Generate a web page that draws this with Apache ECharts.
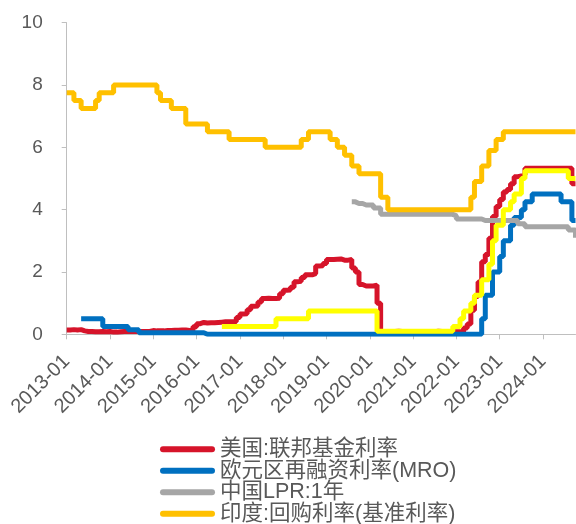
<!DOCTYPE html>
<html>
<head>
<meta charset="utf-8">
<script src="https://cdn.jsdelivr.net/npm/echarts@6/dist/echarts.min.js"></script>
<style>
  html, body { margin: 0; padding: 0; background: #fff; }
  #chart { width: 576px; height: 524px; }
</style>
</head>
<body>
<div id="chart"></div>
<script>
// monthly categories 2013-01 .. 2024-10
var startYear = 2013, endYear = 2024, endMonth = 10;
var months = [];
for (var y = startYear; y <= endYear; y++) {
  for (var m = 1; m <= 12; m++) {
    if (y == endYear && m > endMonth) break;
    months.push(y + '-' + (m < 10 ? '0' + m : m));
  }
}

var seriesNames = ['美国:联邦基金利率', '欧元区再融资利率(MRO)', '中国LPR:1年', '印度:回购利率(基准利率)'];
var ukName = '英国:银行利率';

// 美国:联邦基金利率
var usRate = [
  0.14,0.15,0.14,0.15,0.11,0.09,0.09,0.08,0.08,0.09,0.08,0.09,
  0.07,0.07,0.08,0.09,0.09,0.10,0.09,0.09,0.09,0.09,0.09,0.12,
  0.11,0.11,0.11,0.12,0.12,0.13,0.13,0.14,0.14,0.12,0.12,0.24,
  0.34,0.38,0.36,0.37,0.37,0.38,0.39,0.40,0.40,0.40,0.41,0.54,
  0.65,0.66,0.79,0.90,0.91,1.04,1.15,1.16,1.15,1.15,1.16,1.30,
  1.41,1.42,1.51,1.69,1.70,1.82,1.91,1.91,1.95,2.19,2.20,2.27,
  2.40,2.40,2.41,2.42,2.38,2.38,2.40,2.13,2.00,1.60,1.55,1.55,
  1.55,1.58,1.00,0.05,0.05,0.08,0.09,0.10,0.09,0.09,0.09,0.09,
  0.09,0.08,0.07,0.07,0.06,0.08,0.10,0.09,0.08,0.08,0.08,0.08,
  0.08,0.08,0.20,0.33,0.77,1.21,1.68,2.33,2.56,3.08,3.78,4.10,
  4.33,4.57,4.65,4.83,5.06,5.08,5.12,5.33,5.33,5.33,5.33,5.33,
  5.33,5.33,5.33,5.33,5.33,5.33,5.33,5.33,4.83,4.83
];

// 欧元区再融资利率(MRO)
var ecbRate = [
  null,null,null,null,0.5,0.5,0.5,0.5,0.5,0.5,0.25,0.25,
  0.25,0.25,0.25,0.25,0.25,0.15,0.15,0.15,0.05,0.05,0.05,0.05,
  0.05,0.05,0.05,0.05,0.05,0.05,0.05,0.05,0.05,0.05,0.05,0.05,
  0.05,0.05,0,0,0,0,0,0,0,0,0,0,
  0,0,0,0,0,0,0,0,0,0,0,0,
  0,0,0,0,0,0,0,0,0,0,0,0,
  0,0,0,0,0,0,0,0,0,0,0,0,
  0,0,0,0,0,0,0,0,0,0,0,0,
  0,0,0,0,0,0,0,0,0,0,0,0,
  0,0,0,0,0,0,0,0.5,1.25,1.25,2.0,2.0,
  2.5,3.0,3.0,3.5,3.75,3.75,4.0,4.25,4.25,4.5,4.5,4.5,
  4.5,4.5,4.5,4.5,4.5,4.25,4.25,4.25,3.65,3.65
];

// 中国LPR:1年 (from 2019-08)
var chinaLpr = [
  null,null,null,null,null,null,null,null,null,null,null,null,
  null,null,null,null,null,null,null,null,null,null,null,null,
  null,null,null,null,null,null,null,null,null,null,null,null,
  null,null,null,null,null,null,null,null,null,null,null,null,
  null,null,null,null,null,null,null,null,null,null,null,null,
  null,null,null,null,null,null,null,null,null,null,null,null,
  null,null,null,null,null,null,null,4.25,4.20,4.20,4.15,4.15,
  4.15,4.05,4.05,3.85,3.85,3.85,3.85,3.85,3.85,3.85,3.85,3.85,
  3.85,3.85,3.85,3.85,3.85,3.85,3.85,3.85,3.85,3.85,3.85,3.80,
  3.70,3.70,3.70,3.70,3.70,3.70,3.70,3.65,3.65,3.65,3.65,3.65,
  3.65,3.65,3.65,3.65,3.65,3.55,3.55,3.45,3.45,3.45,3.45,3.45,
  3.45,3.45,3.45,3.45,3.45,3.45,3.45,3.35,3.35,3.10
];

// 印度:回购利率(基准利率)
var indiaRate = [
  7.75,7.75,7.5,7.5,7.25,7.25,7.25,7.25,7.5,7.75,7.75,7.75,
  7.75,8.0,8.0,8.0,8.0,8.0,8.0,8.0,8.0,8.0,8.0,8.0,
  8.0,7.75,7.5,7.5,7.5,7.25,7.25,7.25,7.25,6.75,6.75,6.75,
  6.75,6.75,6.75,6.5,6.5,6.5,6.5,6.5,6.5,6.25,6.25,6.25,
  6.25,6.25,6.25,6.25,6.25,6.25,6.25,6.0,6.0,6.0,6.0,6.0,
  6.0,6.0,6.0,6.0,6.0,6.25,6.25,6.5,6.5,6.5,6.5,6.5,
  6.5,6.25,6.25,6.0,6.0,5.75,5.75,5.4,5.4,5.15,5.15,5.15,
  5.15,5.15,5.15,4.4,4.4,4.0,4.0,4.0,4.0,4.0,4.0,4.0,
  4.0,4.0,4.0,4.0,4.0,4.0,4.0,4.0,4.0,4.0,4.0,4.0,
  4.0,4.0,4.0,4.0,4.4,4.9,4.9,5.4,5.4,5.9,5.9,6.25,
  6.25,6.5,6.5,6.5,6.5,6.5,6.5,6.5,6.5,6.5,6.5,6.5,
  6.5,6.5,6.5,6.5,6.5,6.5,6.5,6.5,6.5,6.5
];

// yellow line, not in legend (from 2016-08)
var ukRate = [
  null,null,null,null,null,null,null,null,null,null,null,null,
  null,null,null,null,null,null,null,null,null,null,null,null,
  null,null,null,null,null,null,null,null,null,null,null,null,
  null,null,null,null,null,null,null,0.25,0.25,0.25,0.25,0.25,
  0.25,0.25,0.25,0.25,0.25,0.25,0.25,0.25,0.25,0.25,0.5,0.5,
  0.5,0.5,0.5,0.5,0.5,0.5,0.5,0.75,0.75,0.75,0.75,0.75,
  0.75,0.75,0.75,0.75,0.75,0.75,0.75,0.75,0.75,0.75,0.75,0.75,
  0.75,0.75,0.1,0.1,0.1,0.1,0.1,0.1,0.1,0.1,0.1,0.1,
  0.1,0.1,0.1,0.1,0.1,0.1,0.1,0.1,0.1,0.1,0.1,0.25,
  0.25,0.5,0.75,0.75,1.0,1.25,1.25,1.75,1.75,2.25,3.0,3.5,
  3.5,4.0,4.0,4.25,4.5,4.5,5.0,5.25,5.25,5.25,5.25,5.25,
  5.25,5.25,5.25,5.25,5.25,5.25,5.25,5.0,5.0,5.0
];

var yTicks = [0, 2, 4, 6, 8, 10];

var colors = ['#D6142A', '#0070C0', '#A6A6A6', '#FFC000', '#FFFF00'];
var fontStack = "'Liberation Sans', Arial, 'Noto Sans CJK SC', sans-serif";

function lineSeries(name, data, color, width) {
  return {
    name: name,
    type: 'line',
    step: 'end',
    data: data,
    showSymbol: false,
    symbol: 'none',
    connectNulls: false,
    lineStyle: { color: color, width: width },
    itemStyle: { color: color }
  };
}

var chart = echarts.init(document.getElementById('chart'));
chart.setOption({
  animation: false,
  backgroundColor: '#ffffff',
  grid: { left: 66.7, right: 0.5, top: 22.7, bottom: 189.7, containLabel: false },
  legend: {
    data: seriesNames,
    orient: 'vertical',
    left: 160,
    top: 438.5,
    height: 200,
    padding: 0,
    itemWidth: 55,
    itemHeight: 6,
    itemGap: 0,
    icon: 'path://M3,0 L52,0 A3,3 0 0 1 52,6 L3,6 A3,3 0 0 1 3,0 Z',
    textStyle: { color: '#595959', fontSize: 21.5, lineHeight: 21.4, fontFamily: fontStack }
  },
  xAxis: {
    type: 'category',
    data: months,
    boundaryGap: false,
    axisLine: { lineStyle: { color: '#BFBFBF', width: 1 } },
    axisTick: { show: true, interval: 11, length: 5, lineStyle: { color: '#BFBFBF' } },
    axisLabel: { interval: 11, rotate: 45, margin: 24, color: '#595959', fontSize: 20, fontFamily: fontStack },
    splitLine: { show: false }
  },
  yAxis: {
    type: 'value',
    min: yTicks[0],
    max: yTicks[yTicks.length - 1],
    interval: 2,
    axisLine: { show: true, lineStyle: { color: '#BFBFBF', width: 1 } },
    axisTick: { show: true, length: 5, lineStyle: { color: '#BFBFBF' } },
    axisLabel: { margin: 24, color: '#595959', fontSize: 19, fontFamily: fontStack },
    splitLine: { show: false }
  },
  series: [
    lineSeries(seriesNames[0], usRate, colors[0], 5),
    lineSeries(seriesNames[1], ecbRate, colors[1], 5),
    lineSeries(seriesNames[2], chinaLpr, colors[2], 5),
    lineSeries(seriesNames[3], indiaRate, colors[3], 5),
    lineSeries(ukName, ukRate, colors[4], 5)
  ]
});
</script>
</body>
</html>
